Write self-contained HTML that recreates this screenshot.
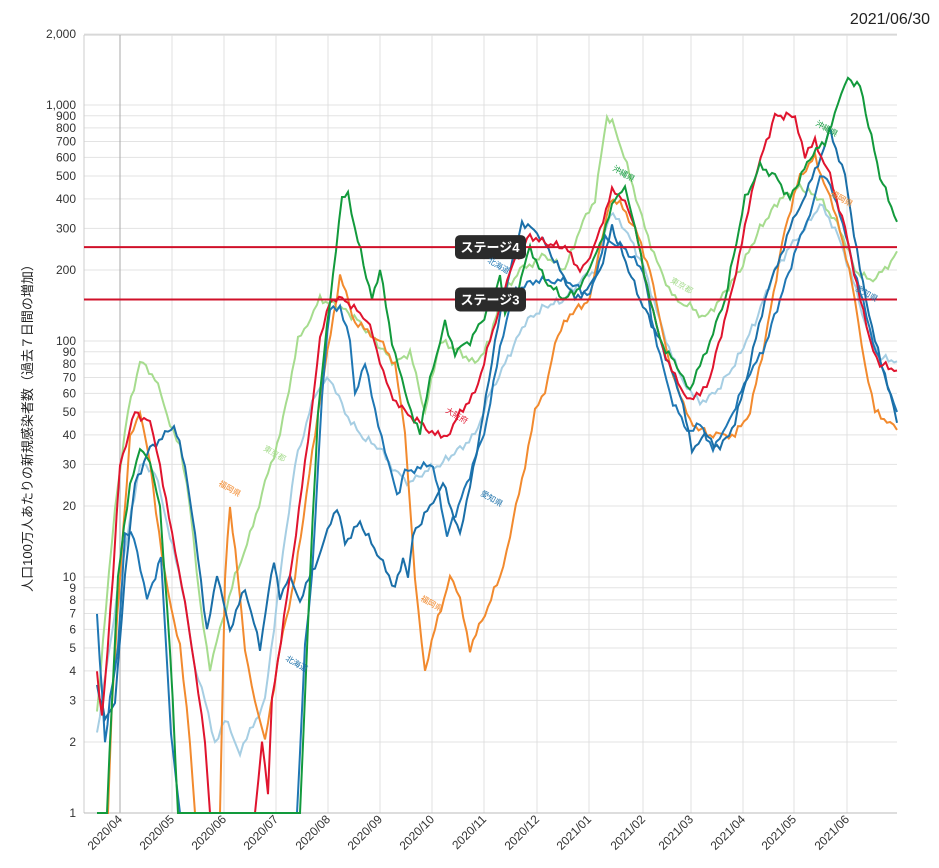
<!DOCTYPE html>
<html><head><meta charset="utf-8"><style>
body{margin:0;background:#fff;width:939px;height:863px;overflow:hidden;font-family:"Liberation Sans","Noto Sans CJK JP",sans-serif}
</style></head><body>
<svg id="s" width="939" height="863" xmlns="http://www.w3.org/2000/svg" font-family="Liberation Sans, Noto Sans CJK JP, sans-serif">
<text x="930" y="24" font-size="16" text-anchor="end" fill="#222">2021/06/30</text>
<text transform="translate(32,425) rotate(-90)" font-size="13" text-anchor="middle" fill="#222">人口100万人あたりの新規感染者数（過去７日間の増加）</text>
<g id="grid"></g><g id="lines"></g><g id="ann"></g>
</svg>
<script>
var NS="http://www.w3.org/2000/svg";
function Y(v){return 813-236*Math.log10(v);}
function el(t,a,p,txt){var e=document.createElementNS(NS,t);for(var k in a)e.setAttribute(k,a[k]);if(txt)e.textContent=txt;p.appendChild(e);return e;}
var g=document.getElementById('grid');
var L=84,R=897;
for(var d=0;d<4;d++)for(var m=1;m<10;m++){var v=m*Math.pow(10,d);if(v>2000)break;var y=Y(v);
el('line',{x1:L,x2:R,y1:y,y2:y,stroke:'#e3e3e3','stroke-width':1},g);
var lab=(m==1||d==0||(d==1)||(d==2)||(d==3))?v.toLocaleString('en-US'):'';
if(d==3&&m>2)lab='';
if(lab)el('text',{x:76,y:y+4,'font-size':12,'text-anchor':'end',fill:'#333'},g,lab);}
el('line',{x1:L,x2:R,y1:35,y2:35,stroke:'#ccc'},g);
var mx=[120,172,224,276,328,380,432,484,537,589,643,691,743,794,847];
var ml=['2020/04','2020/05','2020/06','2020/07','2020/08','2020/09','2020/10','2020/11','2020/12','2021/01','2021/02','2021/03','2021/04','2021/05','2021/06'];
mx.forEach(function(x,i){el('line',{x1:x,x2:x,y1:35,y2:813,stroke:i==0?'#aaa':'#e0e0e0'},g);
el('text',{transform:'translate('+(x+3)+',820) rotate(-45)','font-size':12,'text-anchor':'end',fill:'#333'},g,ml[i]);});
el('line',{x1:L,x2:L,y1:35,y2:813,stroke:'#ccc'},g);
el('line',{x1:L,x2:R,y1:813,y2:813,stroke:'#bbb'},g);
var S={
'#a6dc8e':[[97,2.7],[115,20],[128,50],[140,82],[155,70],[170,45],[180,35],[190,20],[200,8],[210,4],[220,6],[235,10],[250,15],[265,25],[280,40],[298,100],[320,150],[340,140],[360,120],[375,100],[395,80],[410,90],[425,50],[440,100],[460,90],[475,80],[490,100],[500,150],[520,200],[545,230],[565,200],[580,300],[595,400],[607,900],[615,800],[630,500],[645,300],[660,200],[675,150],[690,140],[705,125],[720,150],[740,200],[760,300],[780,400],[800,450],[820,400],[840,300],[855,200],[870,180],[885,200],[897,240]],
'#a6cee3':[[97,2.2],[120,10],[140,30],[155,28],[170,15],[185,8],[195,4],[205,3],[215,2],[225,2.5],[240,1.8],[250,2.2],[265,3],[280,10],[295,30],[315,60],[330,70],[345,50],[360,40],[380,35],[395,28],[410,25],[425,28],[440,30],[460,35],[475,40],[490,60],[505,80],[525,120],[545,140],[565,150],[580,180],[595,200],[610,350],[625,300],[645,200],[660,120],[675,80],[690,60],[700,55],[715,60],[735,80],[755,120],[775,200],[790,250],[805,300],[820,380],[835,300],[850,200],[865,120],[880,85],[897,82]],
'#f28a2e':[[97,1],[108,1],[112,3],[120,10],[130,40],[140,50],[150,30],[165,10],[180,5],[190,2],[195,1],[220,1],[225,10],[230,20],[238,10],[245,5],[255,3],[265,2],[280,5],[295,10],[318,50],[340,190],[355,120],[380,100],[395,80],[405,40],[415,10],[425,4],[435,6],[450,10],[460,8],[470,5],[485,7],[500,10],[510,15],[525,30],[535,50],[545,60],[555,100],[570,130],[590,150],[600,250],[610,400],[620,380],[635,300],[650,200],[660,120],[670,80],[680,60],[690,45],[710,40],[735,40],[750,50],[765,100],[785,300],[800,500],[815,600],[830,400],[840,300],[855,150],[865,80],[875,50],[890,45],[897,42]],
'#1f77b4':[[97,7],[105,2],[110,3],[118,5],[125,15],[134,15],[147,8],[161,12],[171,2.2],[180,1],[297,1],[305,5],[312,10],[322,60],[330,140],[340,140],[350,100],[355,60],[365,80],[375,50],[385,35],[397,22],[405,28],[433,30],[447,15],[467,25],[487,45],[500,95],[513,160],[533,180],[567,180],[590,155],[605,270],[623,250],[643,200],[657,95],[673,55],[690,40],[700,45],[713,35],[723,40],[733,50],[747,70],[763,90],[780,150],[797,250],[810,350],[820,500],[827,480],[840,350],[857,180],[873,100],[897,50]],
'#1a6fa8':[[97,3.5],[105,2.5],[115,3],[125,10],[135,25],[150,35],[165,40],[174,44],[185,30],[195,15],[207,6],[217,10],[230,6],[245,9],[260,5],[274,12],[280,8],[290,10],[300,8],[318,12],[337,20],[345,14],[360,17],[380,12],[395,9],[403,12],[408,10],[413,15],[430,20],[443,25],[460,15],[470,25],[480,40],[495,100],[510,200],[522,320],[540,280],[560,200],[575,150],[590,170],[600,200],[612,300],[620,250],[640,150],[660,100],[680,60],[692,35],[705,40],[720,35],[735,45],[750,80],[765,150],[790,300],[815,520],[830,780],[845,500],[860,200],[875,100],[890,60],[897,45]],
'#e0142e':[[97,4],[102,2.5],[113,10],[120,30],[135,50],[150,45],[160,30],[172,15],[185,8],[195,4],[205,2],[210,1],[255,1],[262,2],[268,1.2],[272,3],[290,10],[305,30],[320,100],[330,150],[345,150],[360,130],[370,120],[380,80],[390,60],[405,50],[420,45],[435,40],[450,40],[460,50],[475,60],[490,100],[510,200],[530,280],[545,260],[565,250],[580,200],[590,220],[600,300],[612,430],[625,400],[635,300],[650,150],[660,100],[675,70],[690,55],[700,60],[710,70],[730,150],[745,300],[755,500],[775,900],[795,900],[805,600],[815,700],[830,500],[845,300],[860,150],[870,100],[880,80],[897,75]],
'#129a3c':[[97,1],[107,1],[112,3],[118,10],[130,25],[140,35],[150,30],[160,20],[170,5],[178,1],[300,1],[310,10],[318,50],[330,150],[342,400],[348,430],[355,300],[372,150],[380,200],[392,100],[405,60],[420,40],[430,70],[440,100],[445,120],[455,90],[470,100],[490,140],[500,190],[505,130],[515,150],[530,250],[545,180],[565,150],[580,170],[590,200],[600,260],[615,400],[625,460],[635,300],[650,150],[660,100],[680,75],[690,60],[700,80],[710,100],[725,150],[745,400],[760,550],[775,500],[790,400],[810,600],[825,700],[838,1000],[848,1300],[860,1200],[880,500],[897,320]]
};
var lg=document.getElementById('lines');
for(var c in S){var pts=S[c],d='';
for(var i=0;i<pts.length-1;i++){var a=pts[i],b=pts[i+1];var n=Math.max(1,Math.round((b[0]-a[0])/3));
for(var k=0;k<n;k++){var t=k/n;var x=a[0]+(b[0]-a[0])*t;var lv=Math.log10(a[1])*(1-t)+Math.log10(b[1])*t;var y=Y(Math.pow(10,lv));
if(lv>0.05)y+=(Math.sin(x*1.7+c.length)+Math.sin(x*0.9))*2.2;if(y>813)y=813;
d+=(d?'L':'M')+x.toFixed(1)+' '+y.toFixed(1);}}
var l=pts[pts.length-1];d+='L'+l[0]+' '+Y(l[1]).toFixed(1);
el('path',{d:d,fill:'none',stroke:c,'stroke-width':2},lg);}
var an=document.getElementById('ann');
[[250,'ステージ4'],[150,'ステージ3']].forEach(function(s){var y=Y(s[0]);
el('line',{x1:L,x2:R,y1:y,y2:y,stroke:'#d0102a','stroke-width':2},an);
el('rect',{x:455,y:y-12,width:71,height:24,rx:5,fill:'#2b2b2b'},an);
el('text',{x:490,y:y+5,'font-size':13,'font-weight':'bold','text-anchor':'middle',fill:'#fff'},an,s[1]);});
[[612,170,'#129a3c','沖縄県'],[487,262,'#1f77b4','北海道'],[670,282,'#a6dc8e','東京都'],[445,412,'#e0142e','大阪府'],[480,495,'#1a6fa8','愛知県'],[420,600,'#f28a2e','福岡県'],[263,450,'#a6dc8e','東京都'],[218,485,'#f28a2e','福岡県'],[285,660,'#1a6fa8','北海道'],[815,125,'#129a3c','沖縄県'],[830,195,'#f28a2e','福岡県'],[855,290,'#1a6fa8','愛知県']].forEach(function(a){
el('text',{transform:'translate('+a[0]+','+a[1]+') rotate(30)','font-size':8,fill:a[2]},an,a[3]);});
</script>
</body></html>
